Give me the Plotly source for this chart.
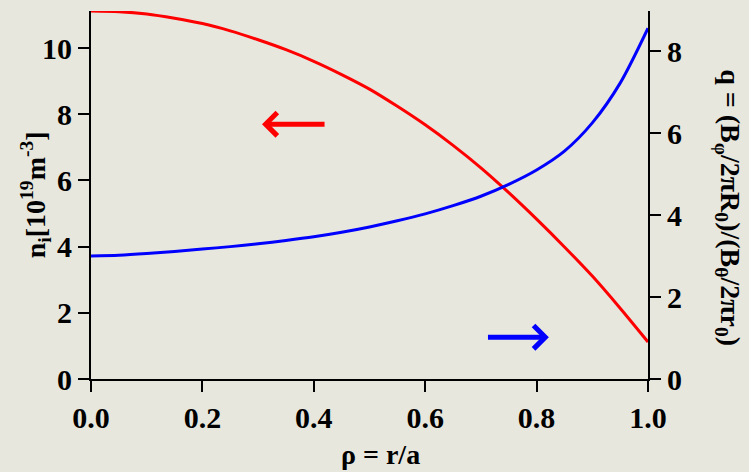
import plotly.graph_objects as go

# Normalised minor radius rho = r/a
rho = [0.00, 0.05, 0.10, 0.15, 0.20, 0.25, 0.30, 0.35, 0.40, 0.45, 0.50,
       0.55, 0.60, 0.65, 0.70, 0.75, 0.80, 0.85, 0.90, 0.95, 1.00]
# Ion density n_i [1e19 m^-3]
n_i = [11.12, 11.10, 11.03, 10.90, 10.74, 10.52, 10.25, 9.95, 9.60, 9.20, 8.76,
       8.24, 7.68, 7.06, 6.38, 5.63, 4.83, 3.99, 3.11, 2.14, 1.12]
# Safety factor q
q = [3.00, 3.02, 3.06, 3.11, 3.17, 3.23, 3.30, 3.38, 3.47, 3.58, 3.71,
     3.86, 4.03, 4.23, 4.46, 4.75, 5.10, 5.56, 6.25, 7.22, 8.56]

x_ticks = [0.0, 0.2, 0.4, 0.6, 0.8, 1.0]
x_ticklabels = ["0.0", "0.2", "0.4", "0.6", "0.8", "1.0"]
n_ticks = [0, 2, 4, 6, 8, 10]
q_ticks = [0, 2, 4, 6, 8]

FONT = "Liberation Serif"
BG = "#e8e7de"

fig = go.Figure()
fig.add_trace(go.Scatter(x=rho, y=n_i, mode="lines", yaxis="y",
                         line=dict(color="#ff0000", width=3, shape="spline", smoothing=0.8),
                         showlegend=False))
fig.add_trace(go.Scatter(x=rho, y=q, mode="lines", yaxis="y2",
                         line=dict(color="#0000ff", width=3, shape="spline", smoothing=0.8),
                         showlegend=False))

axis_common = dict(showline=True, linecolor="black", linewidth=2,
                   ticks="outside", ticklen=11, tickwidth=2, tickcolor="black",
                   showgrid=False, zeroline=False,
                   tickfont=dict(family=FONT, size=30, color="black", weight="bold"))

fig.update_layout(
    width=749, height=472,
    margin=dict(l=91, r=101, t=11, b=93),
    paper_bgcolor=BG, plot_bgcolor=BG,
    xaxis=dict(range=[0, 1], tickvals=x_ticks, ticktext=x_ticklabels, **axis_common),
    yaxis=dict(range=[0, 11.12], tickvals=n_ticks, **axis_common),
    yaxis2=dict(range=[0, 8.98], tickvals=q_ticks, overlaying="y", side="right",
                **axis_common),
)

title_font = dict(family=FONT, size=28, color="black", weight="bold")
fig.add_annotation(text="ρ = r/a", xref="paper", yref="paper", x=0.52, y=-0.205,
                   showarrow=False, font=title_font, xanchor="center", yanchor="middle")
fig.add_annotation(text="n<sub>i</sub>[10<sup>19</sup>m<sup>-3</sup>]",
                   xref="paper", yref="paper", x=-0.1, y=0.5, textangle=-90,
                   showarrow=False, font=title_font, xanchor="center", yanchor="middle")
fig.add_annotation(text="q = (B<sub>φ</sub>/2πR<sub>0</sub>)/(B<sub>θ</sub>/2πr<sub>0</sub>)",
                   xref="paper", yref="paper", x=1.143, y=0.465, textangle=90,
                   showarrow=False, font=dict(family=FONT, size=28, color="black", weight="bold"),
                   xanchor="center", yanchor="middle")

# Arrows indicating which axis each curve belongs to
fig.add_annotation(x=0.307, y=7.7, ax=0.422, ay=7.7, xref="x", yref="y",
                   axref="x", ayref="y", text="", showarrow=True,
                   arrowhead=4, arrowsize=0.9, arrowwidth=5, arrowcolor="#ff0000")
fig.add_annotation(x=0.822, y=1.02, ax=0.71, ay=1.02, xref="x", yref="y2",
                   axref="x", ayref="y2", text="", showarrow=True,
                   arrowhead=4, arrowsize=0.9, arrowwidth=5, arrowcolor="#0000ff")

fig.write_html("out.html")
